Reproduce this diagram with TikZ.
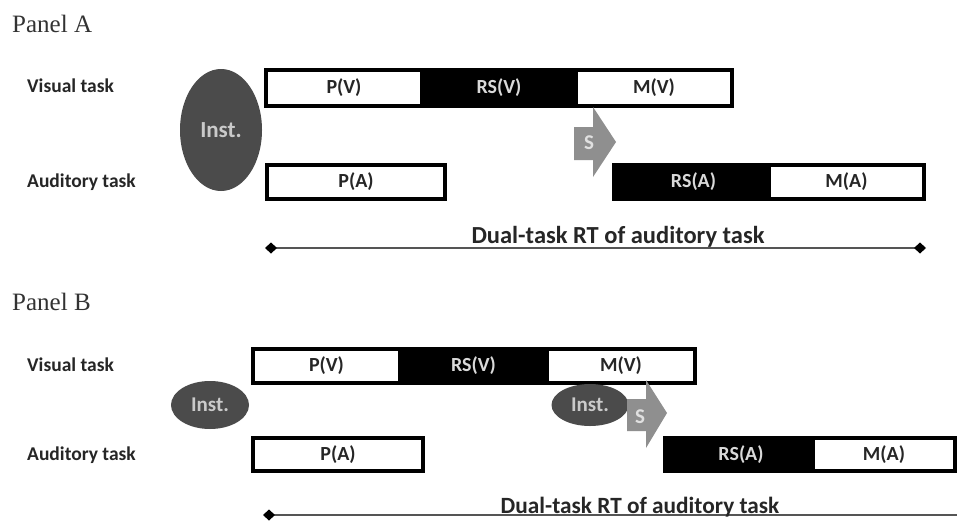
\documentclass[tikz,border=0pt]{standalone}
\usepackage{fontspec}
\setmainfont{Liberation Serif}
\newfontfamily\calfont{Carlito}
\usetikzlibrary{arrows.meta,shapes.geometric}
\definecolor{instgray}{HTML}{4B4B4B}
\definecolor{insttext}{HTML}{CACACA}
\definecolor{sgray}{HTML}{8F8F8F}
\definecolor{panelgray}{HTML}{333333}
\definecolor{linegray}{HTML}{555555}
\begin{document}
\begin{tikzpicture}[x=1pt,y=-1pt,
  seg/.style={rectangle, inner sep=0pt, minimum height=32pt, font=\calfont\bfseries\fontsize{20}{22}\selectfont},
  wseg/.style={seg, fill=white, text=black!85},
  bseg/.style={seg, fill=black, text=black!15},
  frame/.style={draw=black, line width=4pt},
  rowlabel/.style={anchor=west, inner sep=0pt, font=\calfont\bfseries\fontsize{19.5}{21}\selectfont, text=black!85},
  panellabel/.style={anchor=base west, inner sep=0pt, font=\fontsize{25}{28}\selectfont, text=panelgray},
  inst/.style={ellipse, fill=instgray, inner sep=0pt, text=insttext},
  sarrow/.style={fill=sgray},
  slabel/.style={inner sep=0pt, text=black!12, font=\calfont\bfseries\fontsize{21}{23}\selectfont},
  tline/.style={draw=linegray, line width=1.4pt},
  tip/.style={},
  dual/.style={anchor=base, inner sep=0pt, font=\calfont\bfseries\fontsize{24.5}{26}\selectfont, text=black!85}
]
\useasboundingbox[fill=white] (0,0) rectangle (957,522);

% ---------------- Panel A ----------------
\node[panellabel] (pA) at (12,32) {Panel A};
\node[rowlabel] (vA) at (27,86) {Visual task};
\node[rowlabel] (aA) at (27,182) {Auditory task};

\node[inst, minimum width=82pt, minimum height=122pt, font=\calfont\bfseries\fontsize{23}{25}\selectfont] (iA) at (221,130) {Inst.};

\node[wseg, minimum width=152pt] (pvA) at (344,88) {P(V)};
\node[bseg, minimum width=158pt] (rsvA) at (499,88) {RS(V)};
\node[wseg, minimum width=152pt] (mvA) at (654,88) {M(V)};
\draw[frame] ([xshift=-2pt,yshift=2pt]pvA.north west) rectangle ([xshift=2pt,yshift=-2pt]mvA.south east);

\node[wseg, minimum width=174pt, minimum height=30pt] (paA) at (356,182) {P(A)};
\draw[frame] ([xshift=-2pt,yshift=2pt]paA.north west) rectangle ([xshift=2pt,yshift=-2pt]paA.south east);

\node[bseg, minimum width=155pt, minimum height=30pt] (rsaA) at (693.5,182) {RS(A)};
\node[wseg, minimum width=151pt, minimum height=30pt] (maA) at (846.5,182) {M(A)};
\draw[frame] ([xshift=-2pt,yshift=2pt]rsaA.north west) rectangle ([xshift=2pt,yshift=-2pt]maA.south east);

\fill[sarrow] (574,127) -- (593,127) -- (593,107) -- (616,142) -- (593,177) -- (593,160) -- (574,160) -- cycle;
\node[slabel] (sA) at (589,143) {S};

\coordinate (tA1) at (265,248);
\coordinate (tA2) at (926,248);
\draw[tline, {Diamond[length=12pt,width=11pt,fill=black,color=black]}-{Diamond[length=12pt,width=11pt,fill=black,color=black]}] (tA1) -- (tA2);
\node[dual] (dA) at (618,243) {Dual-task RT of auditory task};

% ---------------- Panel B ----------------
\node[panellabel] (pB) at (12,310) {Panel B};
\node[rowlabel] (vB) at (27,365) {Visual task};
\node[rowlabel] (aB) at (27,455) {Auditory task};

\node[inst, minimum width=78pt, minimum height=48pt, font=\calfont\bfseries\fontsize{21}{23}\selectfont] (iB1) at (210,405) {Inst.};

\node[wseg, minimum width=143pt, minimum height=30pt] (pvB) at (326.5,366) {P(V)};
\node[bseg, minimum width=151pt, minimum height=30pt] (rsvB) at (473.5,366) {RS(V)};
\node[wseg, minimum width=144pt, minimum height=30pt] (mvB) at (621,366) {M(V)};
\draw[frame] ([xshift=-2pt,yshift=2pt]pvB.north west) rectangle ([xshift=2pt,yshift=-2pt]mvB.south east);

\node[inst, minimum width=77pt, minimum height=42pt, font=\calfont\bfseries\fontsize{21}{23}\selectfont] (iB2) at (590,405) {Inst.};

\fill[sarrow] (627,399) -- (646,399) -- (646,380) -- (667,413) -- (646,448) -- (646,431) -- (627,431) -- cycle;
\node[slabel] (sB) at (640,417) {S};

\node[wseg, minimum width=166pt, minimum height=29pt] (paB) at (338,454.5) {P(A)};
\draw[frame] ([xshift=-2pt,yshift=2pt]paB.north west) rectangle ([xshift=2pt,yshift=-2pt]paB.south east);

\node[bseg, minimum width=148pt, minimum height=29pt] (rsaB) at (741,454.5) {RS(A)};
\node[wseg, minimum width=138pt, minimum height=29pt] (maB) at (884,454.5) {M(A)};
\draw[frame] ([xshift=-2pt,yshift=2pt]rsaB.north west) rectangle ([xshift=2pt,yshift=-2pt]maB.south east);

\coordinate (tB1) at (263,515);
\coordinate (tB2) at (960,515);
\draw[tline, {Diamond[length=12pt,width=11pt,fill=black,color=black]}-] (tB1) -- (tB2);
\node[dual, font=\calfont\bfseries\fontsize{23.3}{25}\selectfont] (dB) at (640,513) {Dual-task RT of auditory task};
\end{tikzpicture}
\end{document}
